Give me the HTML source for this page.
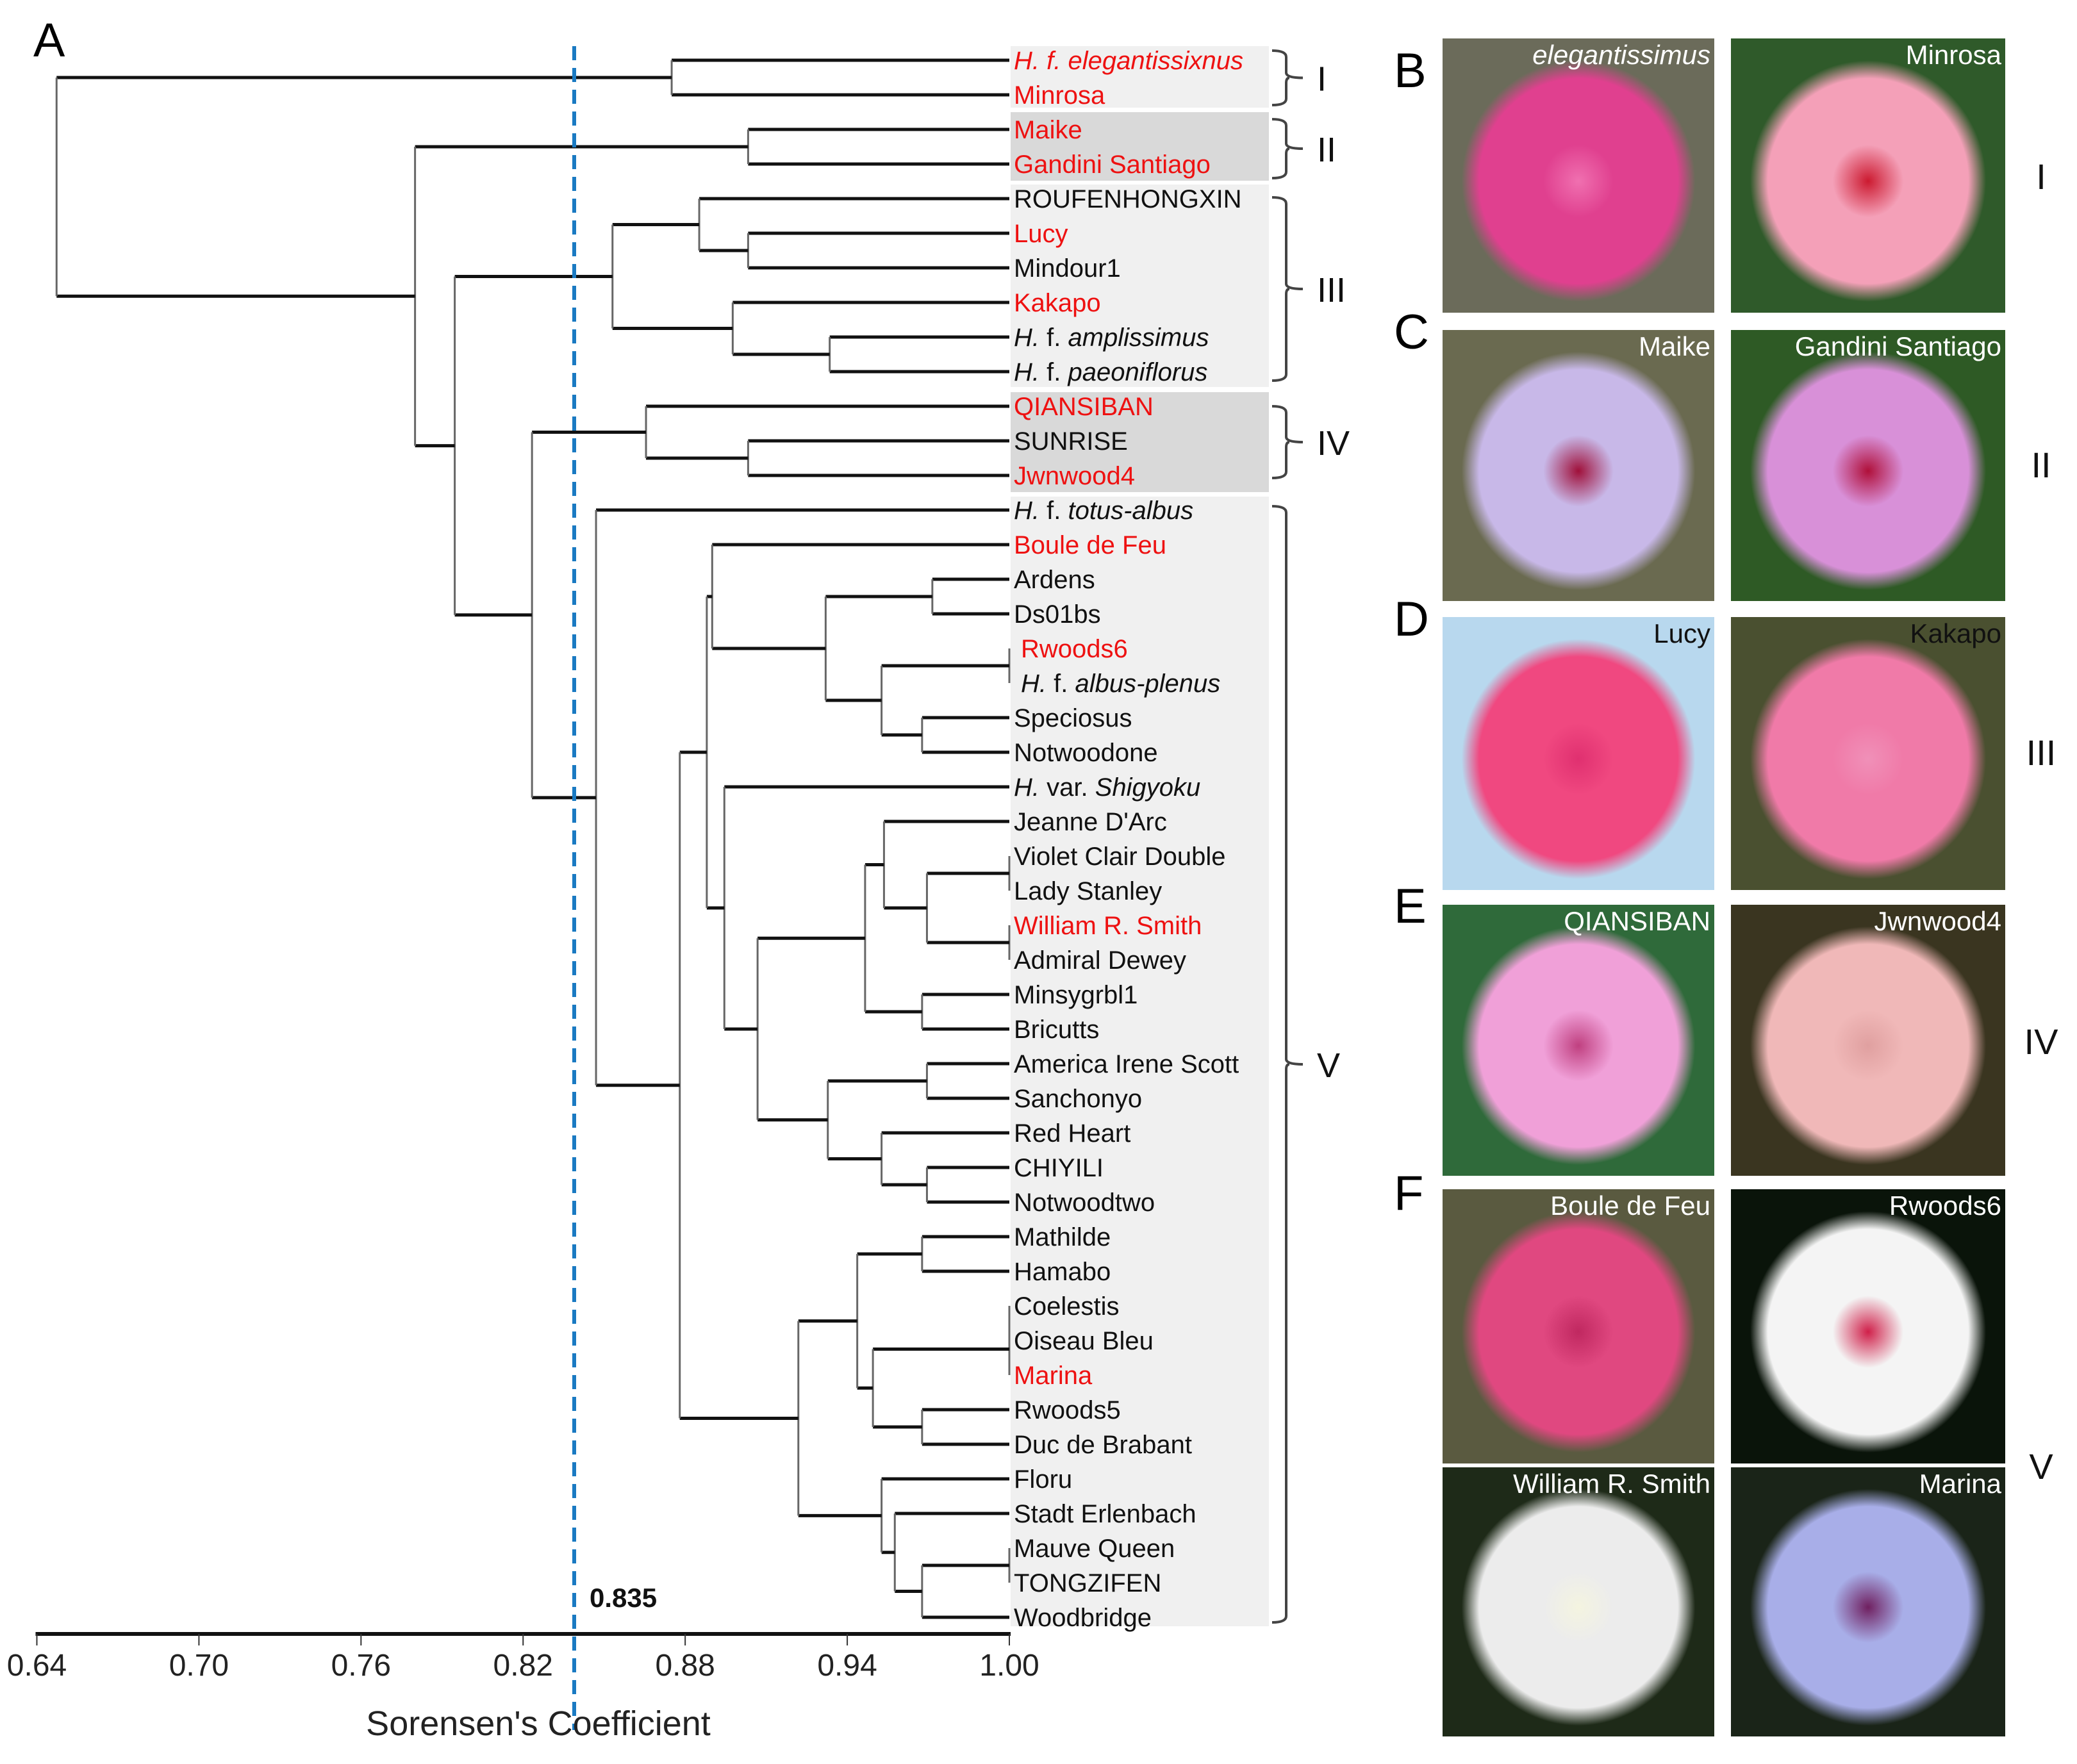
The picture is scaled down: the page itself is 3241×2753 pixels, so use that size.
<!DOCTYPE html>
<html><head><meta charset="utf-8">
<style>
html,body{margin:0;padding:0;background:#fff;}
svg{display:block;font-family:"Liberation Sans",Arial,sans-serif;}
</style></head>
<body>
<svg id="fig" width="3241" height="2753" viewBox="0 0 3241 2753" xmlns="http://www.w3.org/2000/svg">
  <g id="boxes">
    <rect x="1577" y="72" width="403" height="96" fill="#f0f0f0"/>
    <rect x="1577" y="175" width="403" height="107" fill="#d9d9d9"/>
    <rect x="1577" y="288" width="403" height="316" fill="#f0f0f0"/>
    <rect x="1577" y="612" width="403" height="156" fill="#d9d9d9"/>
    <rect x="1577" y="775" width="403" height="1763" fill="#f0f0f0"/>
  </g>
  <text x="52" y="88" font-size="74" fill="#000">A</text>
  <g id="tree"></g>
  <g id="labels"></g>
  <g id="axis"></g>
  <line x1="896" y1="72" x2="896" y2="2700" stroke="#1a7ac2" stroke-width="6" stroke-dasharray="22,12"/>
  <text x="920" y="2508" font-size="42" font-weight="bold" fill="#111">0.835</text>
  <text x="840" y="2708" font-size="54" text-anchor="middle" fill="#222">Sorensen's  Coefficient</text>
  <g id="brackets"></g>
  <g id="photos"></g>
</svg>
<script>
const NS="http://www.w3.org/2000/svg";
const leafNames=["H. f. elegantissixnus","Minrosa","Maike","Gandini Santiago","ROUFENHONGXIN","Lucy","Mindour1","Kakapo","H. f. amplissimus","H. f. paeoniflorus","QIANSIBAN","SUNRISE","Jwnwood4","H. f. totus-albus","Boule de Feu","Ardens","Ds01bs","Rwoods6","H. f. albus-plenus","Speciosus","Notwoodone","H. var. Shigyoku","Jeanne D'Arc","Violet Clair Double","Lady Stanley","William R. Smith","Admiral Dewey","Minsygrbl1","Bricutts","America Irene Scott","Sanchonyo","Red Heart","CHIYILI","Notwoodtwo","Mathilde","Hamabo","Coelestis","Oiseau Bleu","Marina","Rwoods5","Duc de Brabant","Floru","Stadt Erlenbach","Mauve Queen","TONGZIFEN","Woodbridge"];
const redLeaves=[0,1,2,3,5,7,10,12,14,17,25,38];
// merge k joins mergeA[k] and mergeB[k] (leaf index or "nK") at similarity mergeVal[k]
const mergeA=[0,2,5,4,8,7,"n3",11,10,15,17,19,"n10","n9",14,23,25,"n15",22,27,"n18",29,32,31,"n21","n20",21,"n14",34,36,"n29",39,"n30","n28",43,"n34",42,41,"n33","n27",13,"n8","n6","n1","n0"];
const mergeB=[1,3,6,"n2",9,"n4","n5",12,"n7",16,18,20,"n11","n12","n13",24,26,"n16","n17",28,"n19",30,33,"n22","n23","n24","n25","n26",35,37,38,40,"n31","n32",44,45,"n35","n36","n37","n38","n39","n40","n41","n42","n43"];
const mergeVal=[0.875,0.9033,0.9033,0.8852,0.9335,0.8976,0.8531,0.9033,0.8655,0.9715,1.0,0.9677,0.9527,0.932,0.89,1.0,1.0,0.9695,0.9536,0.9677,0.9466,0.9695,0.9695,0.9527,0.9328,0.9068,0.8945,0.888,0.9677,1.0,1.0,0.9677,0.9495,0.9437,1.0,0.9677,0.9576,0.9527,0.9219,0.878,0.847,0.8233,0.7947,0.78,0.6473];
const axisTicks=[0.64,0.70,0.76,0.82,0.88,0.94,1.00];
const tickLabels=["0.64","0.70","0.76","0.82","0.88","0.94","1.00"];

const X0=57.5,X1=1575,VMIN=0.64,VMAX=1.0;
function xs(v){return X0+(v-VMIN)/(VMAX-VMIN)*(X1-X0);}
const Y0=94,DY=54.0;
function ys(i){return Y0+i*DY;}

const tree=document.getElementById('tree');
function line(g,x1,y1,x2,y2,col,w,name){
  const l=document.createElementNS(NS,'line');
  l.setAttribute('x1',x1);l.setAttribute('y1',y1);l.setAttribute('x2',x2);l.setAttribute('y2',y2);
  l.setAttribute('stroke',col);l.setAttribute('stroke-width',w);
  
  
  g.appendChild(l);return l;
}
const nodeX={},nodeY={};
function childPos(c){
  if(typeof c==="number") return {x:xs(1.0),y:ys(c)};
  const k=+c.slice(1); return {x:nodeX[k],y:nodeY[k]};
}
for(let k=0;k<mergeVal.length;k++){
  const pa=childPos(mergeA[k]),pb=childPos(mergeB[k]);
  nodeX[k]=xs(mergeVal[k]);nodeY[k]=(pa.y+pb.y)/2;
}
for(let k=0;k<mergeVal.length;k++){
  const pa=childPos(mergeA[k]),pb=childPos(mergeB[k]);
  line(tree,nodeX[k],pa.y,pa.x,pa.y,"#111",5,'branch');
  line(tree,nodeX[k],pb.y,pb.x,pb.y,"#111",5,'branch');
  line(tree,nodeX[k],pa.y,nodeX[k],pb.y,"#666",3,'node-connector');
}

// leaf labels
const lab=document.getElementById('labels');
leafNames.forEach((n,i)=>{
  const t=document.createElementNS(NS,'text');
  const off=(i===17||i===18)?1593:1582;
  t.setAttribute('x',off);t.setAttribute('y',ys(i)+14);
  t.setAttribute('font-size','40');
  t.setAttribute('fill',redLeaves.includes(i)?'#ee1111':'#111');
  
  
  if(i===0){t.setAttribute('font-style','italic');t.textContent=n;}
  else if(n.startsWith("H. ")){
    const parts=n.split(" ");
    const s1=document.createElementNS(NS,'tspan');s1.setAttribute('font-style','italic');s1.textContent="H.";
    const s2=document.createElementNS(NS,'tspan');s2.textContent=" "+parts[1]+" ";
    const s3=document.createElementNS(NS,'tspan');s3.setAttribute('font-style','italic');s3.textContent=parts.slice(2).join(" ");
    t.appendChild(s1);t.appendChild(s2);t.appendChild(s3);
  } else t.textContent=n;
  lab.appendChild(t);
});

// axis
const ax=document.getElementById('axis');
line(ax,X0-2,2550,X1+2,2550,"#111",6,'axis-line');
axisTicks.forEach((v,i)=>{
  line(ax,xs(v),2550,xs(v),2568,"#333",2,'axis-tick');
  const t=document.createElementNS(NS,'text');
  t.setAttribute('x',xs(v));t.setAttribute('y',2615);
  t.setAttribute('font-size','48');t.setAttribute('text-anchor','middle');t.setAttribute('fill','#222');
  
  
  t.textContent=tickLabels[i];ax.appendChild(t);
});

// brackets
const br=document.getElementById('brackets');
const brackets=[[79,164,"I"],[186,278,"II"],[308,594,"III"],[634,746,"IV"],[790,2532,"V"]];
brackets.forEach(b=>{
  const [y1,y2,lbl]=b;const m=(y1+y2)/2;
  const p=document.createElementNS(NS,'path');
  p.setAttribute('d',`M1985 ${y1} Q2007 ${y1} 2007 ${y1+10} L2007 ${m-8} Q2007 ${m} 2033 ${m} M2007 ${m+8} Q2007 ${m} 2012 ${m} M2007 ${m+8} L2007 ${y2-10} Q2007 ${y2} 1985 ${y2}`);
  p.setAttribute('fill','none');p.setAttribute('stroke','#444');p.setAttribute('stroke-width','4');
  
  
  br.appendChild(p);
  const t=document.createElementNS(NS,'text');
  t.setAttribute('x',2055);t.setAttribute('y',m+20);t.setAttribute('font-size','54');t.setAttribute('fill','#111');
  
  
  t.textContent=lbl;br.appendChild(t);
});

// photos
const ph=document.getElementById('photos');
const photos=[
 [2251,60,424,428,"#6b6b5a","#e0408f","#f070b0","elegantissimus",true],
 [2701,60,428,428,"#2f5a2a","#f4a0b8","#cc1a30","Minrosa",false],
 [2251,515,424,423,"#6a6a50","#c8b8e8","#a0103a","Maike",false],
 [2701,515,428,423,"#2e5a25","#d890d8","#b0103a","Gandini Santiago",false],
 [2251,963,424,426,"#b8d8ee","#f04880","#e03070","Lucy",false],
 [2701,963,428,426,"#4a5030","#f07aa8","#f090b8","Kakapo",false],
 [2251,1412,424,423,"#2f6a3a","#f0a0d8","#c04080","QIANSIBAN",false],
 [2701,1412,428,423,"#3a3520","#f0b8b8","#e0a0a0","Jwnwood4",false],
 [2251,1856,424,428,"#5a5a40","#e04880","#c02860","Boule de Feu",false],
 [2701,1856,428,428,"#0a140a","#f4f4f4","#d0204a","Rwoods6",false],
 [2251,2290,424,420,"#1e2a18","#ececec","#f4f4e0","William R. Smith",false],
 [2701,2290,428,420,"#1a2418","#a8aee8","#702060","Marina",false]
];
photos.forEach((p,i)=>{
  const [x,y,w,h,bg,petal,center,lbl,ital]=p;
  const g=document.createElementNS(NS,'g');
  
  
  const gid='pg'+i;
  const defs=document.createElementNS(NS,'defs');
  defs.innerHTML=`<radialGradient id="${gid}" cx="50%" cy="50%" r="50%"><stop offset="0" stop-color="${center}"/><stop offset="0.3" stop-color="${petal}"/><stop offset="0.85" stop-color="${petal}"/><stop offset="1" stop-color="${petal}" stop-opacity="0"/></radialGradient>`;
  g.appendChild(defs);
  const r=document.createElementNS(NS,'rect');
  r.setAttribute('x',x);r.setAttribute('y',y);r.setAttribute('width',w);r.setAttribute('height',h);r.setAttribute('fill',bg);
  g.appendChild(r);
  const e=document.createElementNS(NS,'ellipse');
  e.setAttribute('cx',x+w*0.5);e.setAttribute('cy',y+h*0.52);e.setAttribute('rx',w*0.43);e.setAttribute('ry',h*0.44);
  e.setAttribute('fill',`url(#${gid})`);
  g.appendChild(e);
  const t=document.createElementNS(NS,'text');
  t.setAttribute('x',x+w-6);t.setAttribute('y',y+40);t.setAttribute('text-anchor','end');
  t.setAttribute('font-size','42');t.setAttribute('fill',(i===4||i===5)?'#111':'#fff');
  if(ital) t.setAttribute('font-style','italic');
  
  
  t.textContent=lbl;g.appendChild(t);
  ph.appendChild(g);
});
const letters=[["B",136],["C",544],["D",992],["E",1440],["F",1888]];
letters.forEach(l=>{
  const t=document.createElementNS(NS,'text');
  t.setAttribute('x',2175);t.setAttribute('y',l[1]);t.setAttribute('font-size','76');t.setAttribute('fill','#000');
  
  
  t.textContent=l[0];ph.appendChild(t);
});
const romans=[["I",295],["II",745],["III",1194],["IV",1645],["V",2308]];
romans.forEach(l=>{
  const t=document.createElementNS(NS,'text');
  t.setAttribute('x',3185);t.setAttribute('y',l[1]);t.setAttribute('font-size','56');t.setAttribute('text-anchor','middle');t.setAttribute('fill','#111');
  
  
  t.textContent=l[0];ph.appendChild(t);
});
</script>
</body></html>
